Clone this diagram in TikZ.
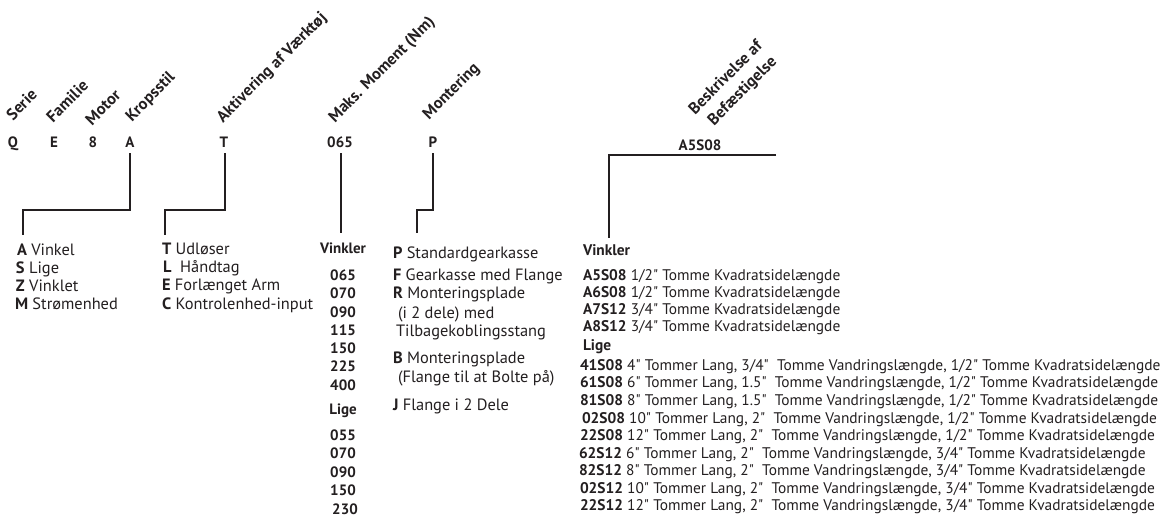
\documentclass[tikz,border=0pt]{standalone}
\usepackage{fontspec}
\setmainfont{PT Sans}[Ligatures=TeXOff]
\definecolor{ink}{HTML}{231F20}
\begin{document}
\begin{tikzpicture}[x=1pt,y=-1pt,
  every node/.style={inner sep=0pt, outer sep=0pt, text=ink},
  code/.style={font=\fontsize{15}{17}\selectfont\bfseries, anchor=base},
  head/.style={font=\fontsize{16.3}{18}\selectfont\bfseries, anchor=base west, rotate=45},
  item/.style={font=\fontsize{16.4}{18}\selectfont, anchor=base west},
  fitem/.style={font=\fontsize{15.4}{17}\selectfont, anchor=base west},
  num/.style={font=\fontsize{15}{17}\selectfont\bfseries, anchor=base},
  wire/.style={draw=ink, line width=1.6pt},
]
\useasboundingbox (0,0) rectangle (1167,515);

% rotated field headings
\node[head] (hSerie)  at (13,121)  {Serie};
\node[head] (hFam)    at (53,123)  {Familie};
\node[head] (hMotor)  at (92,126)  {Motor};
\node[head] (hKrop)   at (132,122) {Kropsstil};
\node[head] (hAkt)    at (223,123) {Aktivering af Værktøj};
\node[head] (hMaks)   at (335,123) {Maks. Moment (Nm)};
\node[head] (hMont)   at (429,120) {Montering};
\node[head] (hBesk1)  at (695,115) {Beskrivelse af};
\node[head] (hBesk2)  at (714,126) {Befæstigelse};

% code characters
\node[code] (kQ) at (13,147)  {Q};
\node[code] (kE) at (54,147)  {E};
\node[code] (k8) at (93,147)  {8};
\node[code] (kA) at (130,147) {A};
\node[code] (kT) at (224,147) {T};
\node[code] (kM) at (340,147) {065};
\node[code] (kP) at (433,147) {P};
\node[code] (kF) at (700,150) {A5S08};

% connector end points
\coordinate (eA1) at (23,210);  \coordinate (eA2) at (23,235);
\coordinate (eT1) at (165,210); \coordinate (eT2) at (165,235);
\coordinate (eM)  at (341,233);
\coordinate (eP1) at (417,210); \coordinate (eP2) at (417,233);
\coordinate (eF0) at (776,155); \coordinate (eF1) at (609,155); \coordinate (eF2) at (609,238);

\draw[wire] (kA.south) ++(0,6) |- (eA1) -- (eA2);
\draw[wire] (kT.south) ++(1,6) |- (eT1) -- (eT2);
\draw[wire] (kM.south) ++(1,6) -- (eM);
\draw[wire] (kP.south) ++(0,6) |- (eP1) -- (eP2);
\draw[wire] (eF0) -- (eF1) -- (eF2);

% body style
\node[item] (lA) at (17,255) {\textbf{A} Vinkel};
\node[item] (lS) at (16,273) {\textbf{S} Lige};
\node[item] (lZ) at (16,291) {\textbf{Z} Vinklet};
\node[item] (lM) at (15,309) {\textbf{M} Strømenhed};

% activation
\node[item] (aT) at (162,254) {\textbf{T} Udløser};
\node[item] (aL) at (163,272) {\textbf{L}\ \ Håndtag};
\node[item] (aE) at (162,290) {\textbf{E} Forlænget Arm};
\node[item] (aC) at (162,309) {\textbf{C} Kontrolenhed-input};

% torque values
\node[num] (mV)  at (343,253) {Vinkler};
\node[num] (m1)  at (343,280) {065};
\node[num] (m2)  at (343,298) {070};
\node[num] (m3)  at (343,317) {090};
\node[num] (m4)  at (343,335) {115};
\node[num] (m5)  at (343,353) {150};
\node[num] (m6)  at (343,371) {225};
\node[num] (m7)  at (343,390) {400};
\node[num] (mL)  at (343,414) {Lige};
\node[num] (m8)  at (343,440) {055};
\node[num] (m9)  at (343,458) {070};
\node[num] (m10) at (343,477) {090};
\node[num] (m11) at (343,495) {150};
\node[num] (m12) at (345,514) {230};

% mounting
\node[item] (pP) at (393,258) {\textbf{P} Standardgearkasse};
\node[item] (pF) at (393,280) {\textbf{F} Gearkasse med Flange};
\node[item] (pR) at (393,298) {\textbf{R} Monteringsplade};
\node[item] (pR2) at (398,318) {(i 2 dele) med};
\node[item] (pR3) at (396,336) {Tilbagekoblingsstang};
\node[item] (pB) at (393,363) {\textbf{B} Monteringsplade};
\node[item] (pB2) at (398,382) {(Flange til at Bolte på)};
\node[item] (pJ) at (393,410) {\textbf{J} Flange i 2 Dele};

% fastener descriptions
\node[fitem] (fV) at (583,255) {\textbf{Vinkler}};
\node[fitem] (f1) at (583,280) {\textbf{A5S08} 1/2" Tomme Kvadratsidelængde};
\node[fitem] (f2) at (583,297) {\textbf{A6S08} 1/2" Tomme Kvadratsidelængde};
\node[fitem] (f3) at (583,314) {\textbf{A7S12} 3/4" Tomme Kvadratsidelængde};
\node[fitem] (f4) at (583,331) {\textbf{A8S12} 3/4" Tomme Kvadratsidelængde};
\node[fitem] (fL) at (583,350) {\textbf{Lige}};
\node[fitem] (g1) at (580,370)   {\textbf{41S08} 4" Tommer Lang, 3/4"\ \ Tomme Vandringslængde, 1/2" Tomme Kvadratsidelængde};
\node[fitem] (g2) at (580,387.5) {\textbf{61S08} 6" Tommer Lang, 1.5"\ \ Tomme Vandringslængde, 1/2" Tomme Kvadratsidelængde};
\node[fitem] (g3) at (580,405)   {\textbf{81S08} 8" Tommer Lang, 1.5"\ \ Tomme Vandringslængde, 1/2" Tomme Kvadratsidelængde};
\node[fitem] (g4) at (582,423)   {\textbf{02S08} 10" Tommer Lang, 2"\ \ Tomme Vandringslængde, 1/2" Tomme Kvadratsidelængde};
\node[fitem] (g5) at (580,440.5) {\textbf{22S08} 12" Tommer Lang, 2"\ \ Tomme Vandringslængde, 1/2" Tomme Kvadratsidelængde};
\node[fitem] (g6) at (579,458)   {\textbf{62S12} 6" Tommer Lang, 2"\ \ Tomme Vandringslængde, 3/4" Tomme Kvadratsidelængde};
\node[fitem] (g7) at (579,475.5) {\textbf{82S12} 8" Tommer Lang, 2"\ \ Tomme Vandringslængde, 3/4" Tomme Kvadratsidelængde};
\node[fitem] (g8) at (580,493)   {\textbf{02S12} 10" Tommer Lang, 2"\ \ Tomme Vandringslængde, 3/4" Tomme Kvadratsidelængde};
\node[fitem] (g9) at (580,510.5) {\textbf{22S12} 12" Tommer Lang, 2"\ \ Tomme Vandringslængde, 3/4" Tomme Kvadratsidelængde};
\end{tikzpicture}
\end{document}
